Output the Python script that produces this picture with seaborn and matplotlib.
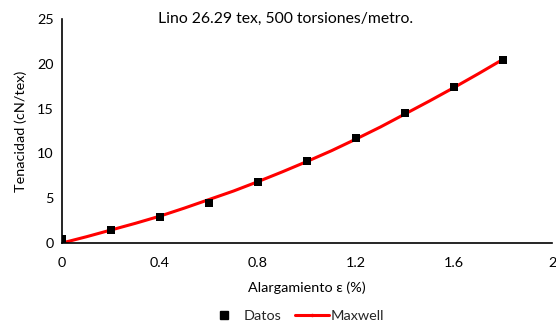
import matplotlib
matplotlib.use("Agg")
import matplotlib.pyplot as plt
from matplotlib.lines import Line2D
import seaborn as sns
import pandas as pd

# Data
x_datos = [0.0, 0.2, 0.4, 0.6, 0.8, 1.0, 1.2, 1.4, 1.6, 1.8]
y_datos = [0.4, 1.45, 2.9, 4.5, 6.8, 9.15, 11.75, 14.5, 17.45, 20.45]

x_maxwell = [0.0, 0.1, 0.2, 0.3, 0.4, 0.5, 0.6, 0.7, 0.8, 0.9, 1.0,
             1.1, 1.2, 1.3, 1.4, 1.5, 1.6, 1.7, 1.8]
y_maxwell = [0.0, 0.7, 1.45, 2.2, 3.0, 3.9, 4.85, 5.8, 6.85, 7.95, 9.1,
             10.3, 11.6, 12.95, 14.4, 15.85, 17.35, 18.9, 20.5]

x_ticks = [0, 0.4, 0.8, 1.2, 1.6, 2]
x_tick_labels = ["0", "0.4", "0.8", "1.2", "1.6", "2"]
y_ticks = [0, 5, 10, 15, 20, 25]

title = "Lino 26.29 tex, 500 torsiones/metro."
xlabel = "Alargamiento ε (%)"
ylabel = "Tenacidad (cN/tex)"

sns.set_theme(style="white")
plt.rcParams['font.family'] = ['Lato', 'DejaVu Sans']

df_d = pd.DataFrame({"x": x_datos, "y": y_datos})
df_m = pd.DataFrame({"x": x_maxwell, "y": y_maxwell})

fs = 10.4

fig = plt.figure(figsize=(5.56, 3.25), dpi=100)
ax = fig.add_axes([62/556, 1 - 243/325, 490/556, 224/325])

sns.lineplot(data=df_m, x="x", y="y", ax=ax, color="#FF0000", linewidth=2.2,
             zorder=2, sort=False, legend=False)
sns.scatterplot(data=df_d, x="x", y="y", ax=ax, color="black", marker="s",
                s=34, edgecolor="black", linewidth=0, zorder=3, legend=False)

ax.set_xlim(0, 2)
ax.set_ylim(0, 25)
ax.set_xticks(x_ticks)
ax.set_xticklabels(x_tick_labels)
ax.set_yticks(y_ticks)
ax.tick_params(axis="y", labelsize=fs, length=0, pad=6, colors="black")
ax.tick_params(axis="x", labelsize=fs, length=0, pad=10, colors="black")
ax.set_xlabel(xlabel, fontsize=fs, labelpad=9, color="black")
ax.set_ylabel(ylabel, fontsize=fs, labelpad=7, color="black")

for s in ["top", "right"]:
    ax.spines[s].set_visible(False)
for s in ["left", "bottom"]:
    ax.spines[s].set_color("black")
    ax.spines[s].set_linewidth(1.2)

ax.text((286 - 62) / 490, 1.0, title, transform=ax.transAxes, ha="center",
        va="center", fontsize=11.3, color="black")

h_datos = Line2D([], [], linestyle="none", marker="s", color="black",
                 markersize=6)
h_max = Line2D([], [], color="#FF0000", linewidth=2.2, marker="o",
               markersize=2.5, markeredgewidth=0)
ax.legend([h_datos, h_max], ["Datos", "Maxwell"],
          loc="center", bbox_to_anchor=(296/556, 1 - 316/325),
          bbox_transform=fig.transFigure, ncol=2, frameon=False,
          fontsize=fs, handlelength=2.3, columnspacing=1.0,
          handletextpad=0.15, borderpad=0)

fig.savefig("out.png", dpi=100)
